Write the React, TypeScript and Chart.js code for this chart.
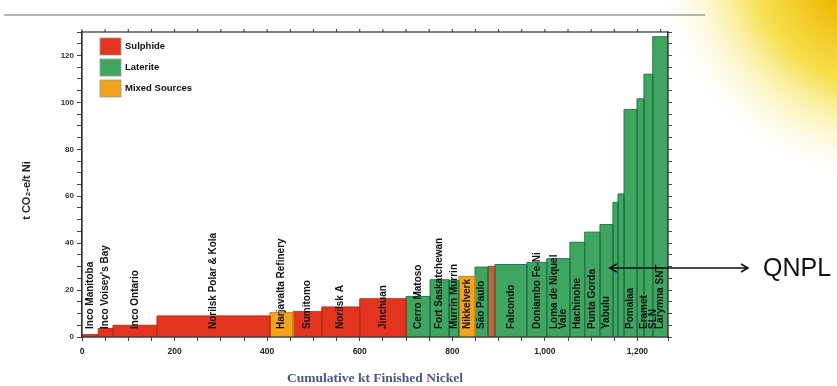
import React, { useEffect, useRef } from "react";
import { Chart, registerables } from "chart.js";

Chart.register(...registerables);

// ---- Data ----
const projects = [
  "Inco Manitoba",
  "Inco Voisey's Bay",
  "Inco Ontario",
  "Norilsk Polar & Kola",
  "Harjavalta Refinery",
  "Sumitomo",
  "Norilsk A",
  "Jinchuan",
  "Cerro Matoso",
  "Fort Saskatchewan",
  "Murrin Murrin",
  "Nikkelverk",
  "São Paulo",
  "",
  "Falcondo",
  "Doniambo Fe-Ni",
  "Loma de Niquel|Vale",
  "Hachinohe",
  "Punta Gorda",
  "Yabulu",
  "",
  "",
  "Pomalaa",
  "",
  "Eramet|SLN",
  "Larymna SNT",
];

const capacityKt = [35, 32, 95, 244, 50, 62, 82, 100, 52, 41, 21, 35, 28, 15, 69, 43, 50, 32, 33, 28, 11, 13, 28, 15, 19, 33];

const emissions = [1.0, 3.6, 5.0, 9.0, 10.4, 10.8, 12.8, 16.3, 17.3, 24.4, 24.1, 25.8, 29.8, 30.1, 30.9, 31.8, 33.4, 40.4, 44.7, 47.9, 57.4, 61.0, 97.0, 101.5, 112.0, 128.0];

const sourceType = ["S", "S", "S", "S", "M", "S", "S", "S", "L", "L", "L", "M", "L", "X", "L", "L", "L", "L", "L", "L", "L", "L", "L", "L", "L", "L"];

const legendKeys = ["S", "L", "M"];
const legendNames = ["Sulphide", "Laterite", "Mixed Sources"];

const xMajorTicks = [0, 200, 400, 600, 800, 1000, 1200];
const yMajorTicks = [0, 20, 40, 60, 80, 100, 120];

const annotationText = "QNPL";
const annotationKt = 1140;
const annotationValue = 29.4;

const xTitle = "Cumulative kt Finished Nickel";
const yTitle = "t CO₂-e/t Ni";

// ---- Styles ----
const FILL: Record<string, string> = { S: "#e2341f", L: "#3ea660", M: "#f2a31e", X: "#b4663e" };
const EDGE: Record<string, string> = { S: "#bf2b18", L: "#25774a", M: "#c98419", X: "#8a4a2a" };

export default function App() {
  const ref = useRef<HTMLCanvasElement>(null);

  useEffect(() => {
    document.body.style.margin = "0";
    const canvas = ref.current;
    if (!canvas) return;

    const starts: number[] = [];
    let acc = 0;
    capacityKt.forEach((c) => {
      starts.push(acc);
      acc += c;
    });
    const xMax = acc;

    const datasets: any[] = emissions.map((v, i) => {
      const t = sourceType[i];
      const x0 = starts[i];
      const x1 = starts[i] + capacityKt[i];
      return {
        type: "line",
        label: projects[i],
        data: [
          { x: x0, y: 0 },
          { x: x0, y: v },
          { x: x1, y: v },
          { x: x1, y: 0 },
        ],
        fill: "origin",
        backgroundColor: FILL[t],
        borderColor: EDGE[t],
        borderWidth: 1,
        pointRadius: 0,
        tension: 0,
      };
    });

    const decor = {
      id: "decor",
      beforeDraw(chart: any) {
        const { ctx, width, height } = chart;
        ctx.save();
        ctx.fillStyle = "#ffffff";
        ctx.fillRect(0, 0, width, height);
        const g = ctx.createRadialGradient(880, -40, 5, 880, -40, 230);
        g.addColorStop(0, "#e28f00");
        g.addColorStop(0.3, "#f0c010");
        g.addColorStop(0.55, "#f7e050");
        g.addColorStop(0.78, "rgba(250,240,160,0.45)");
        g.addColorStop(1, "rgba(255,255,255,0)");
        ctx.fillStyle = g;
        ctx.fillRect(600, 0, 237, 260);
        ctx.strokeStyle = "#9c9c9c";
        ctx.lineWidth = 1.5;
        ctx.beginPath();
        ctx.moveTo(4, 15);
        ctx.lineTo(705, 15);
        ctx.stroke();
        ctx.restore();
      },
      afterDatasetsDraw(chart: any) {
        const { ctx, chartArea, scales } = chart;
        const xs = scales.x;
        const ys = scales.y;
        ctx.save();
        // bar labels
        ctx.fillStyle = "#111";
        ctx.font = "bold 10px 'Liberation Sans', Arial, sans-serif";
        ctx.textAlign = "left";
        ctx.textBaseline = "middle";
        const baseY = ys.getPixelForValue(0) - 8;
        projects.forEach((name, i) => {
          if (!name) return;
          const cx = xs.getPixelForValue(starts[i] + capacityKt[i] / 2);
          const lines = name.split("|");
          lines.forEach((ln, k) => {
            const off = (k - (lines.length - 1) / 2) * 9;
            ctx.save();
            ctx.translate(cx + off, baseY);
            ctx.rotate(-Math.PI / 2);
            ctx.fillText(ln, 0, 0);
            ctx.restore();
          });
        });
        // legend
        const lx = chartArea.left + 18;
        let ly = chartArea.top + 6;
        ctx.font = "bold 9.5px 'Liberation Sans', Arial, sans-serif";
        legendKeys.forEach((k, i) => {
          ctx.fillStyle = FILL[k];
          ctx.fillRect(lx, ly, 21, 17);
          ctx.strokeStyle = "#999";
          ctx.lineWidth = 0.8;
          ctx.strokeRect(lx, ly, 21, 17);
          ctx.fillStyle = "#111";
          ctx.fillText(legendNames[i], lx + 25, ly + 8.5);
          ly += 21;
        });
        // border
        ctx.strokeStyle = "#333";
        ctx.lineWidth = 1.2;
        ctx.strokeRect(chartArea.left, chartArea.top, chartArea.right - chartArea.left, chartArea.bottom - chartArea.top);
        // top minor ticks
        ctx.lineWidth = 1;
        for (let v = 0; v <= xMax; v += 50) {
          const px = xs.getPixelForValue(v);
          ctx.beginPath();
          ctx.moveTo(px, chartArea.top);
          ctx.lineTo(px, chartArea.top - 3);
          ctx.stroke();
        }
        // annotation arrow
        const ax0 = xs.getPixelForValue(annotationKt);
        const ay = ys.getPixelForValue(annotationValue);
        const ax1 = chartArea.right + 80;
        ctx.strokeStyle = "#111";
        ctx.lineWidth = 1.5;
        ctx.beginPath();
        ctx.moveTo(ax0, ay);
        ctx.lineTo(ax1, ay);
        ctx.moveTo(ax0 + 7, ay - 4);
        ctx.lineTo(ax0, ay);
        ctx.lineTo(ax0 + 7, ay + 4);
        ctx.moveTo(ax1 - 7, ay - 4);
        ctx.lineTo(ax1, ay);
        ctx.lineTo(ax1 - 7, ay + 4);
        ctx.stroke();
        ctx.fillStyle = "#111";
        ctx.font = "25px 'Liberation Sans', Arial, sans-serif";
        ctx.textAlign = "left";
        ctx.textBaseline = "middle";
        ctx.fillText(annotationText, ax1 + 15, ay + 1);
        ctx.restore();
      },
      afterDraw(chart: any) {
        const { ctx, chartArea } = chart;
        ctx.save();
        ctx.fillStyle = "#4a5a82";
        ctx.font = "bold 13.5px 'Liberation Serif', 'DejaVu Serif', serif";
        ctx.textAlign = "center";
        ctx.textBaseline = "middle";
        ctx.fillText(xTitle, (chartArea.left + chartArea.right) / 2, 379);
        ctx.fillStyle = "#222";
        ctx.font = "bold 11px 'Liberation Sans', Arial, sans-serif";
        ctx.translate(27, (chartArea.top + chartArea.bottom) / 2 + 6);
        ctx.rotate(-Math.PI / 2);
        ctx.fillText(yTitle, 0, 0);
        ctx.restore();
      },
    };

    const chart = new Chart(canvas, {
      type: "line",
      data: { datasets },
      options: {
        animation: false,
        responsive: false,
        devicePixelRatio: 1,
        layout: { padding: { top: 32, right: 169, left: 0, bottom: 0 } },
        plugins: { legend: { display: false }, tooltip: { enabled: false } },
        scales: {
          x: {
            type: "linear",
            min: 0,
            max: xMax,
            afterFit: (s: any) => {
              s.height = 49;
            },
            grid: { drawOnChartArea: false, tickLength: 4, color: "#444" },
            border: { display: true, color: "#333", width: 1.2 },
            ticks: {
              stepSize: 50,
              autoSkip: false,
              maxRotation: 0,
              padding: 6,
              color: "#222",
              font: { size: 8.5, weight: "bold", family: "'Liberation Sans', Arial, sans-serif" },
              callback: (v: any) => (xMajorTicks.includes(Number(v)) ? Number(v).toLocaleString("en-US") : ""),
            },
          },
          y: {
            type: "linear",
            min: 0,
            max: 130,
            afterFit: (s: any) => {
              s.width = 82;
            },
            grid: { drawOnChartArea: false, tickLength: 5, color: "#444" },
            border: { display: true, color: "#333", width: 1.2 },
            ticks: {
              stepSize: 5,
              autoSkip: false,
              padding: 3,
              color: "#333",
              font: { size: 8, weight: "bold", family: "'Liberation Sans', Arial, sans-serif" },
              callback: (v: any) => (yMajorTicks.includes(Number(v)) ? String(v) : ""),
            },
          },
          y2: {
            type: "linear",
            position: "right",
            min: 0,
            max: 130,
            afterFit: (s: any) => {
              s.width = 0;
            },
            grid: { drawOnChartArea: false, tickLength: 4, color: "#444" },
            border: { display: true, color: "#333", width: 1.2 },
            ticks: { stepSize: 5, autoSkip: false, display: true, callback: () => "" },
          },
        },
      } as any,
      plugins: [decor],
    });

    return () => chart.destroy();
  }, []);

  return (
    <div style={{ width: 837, height: 386, position: "relative" }}>
      <canvas ref={ref} width={837} height={386} style={{ display: "block" }} />
    </div>
  );
}
